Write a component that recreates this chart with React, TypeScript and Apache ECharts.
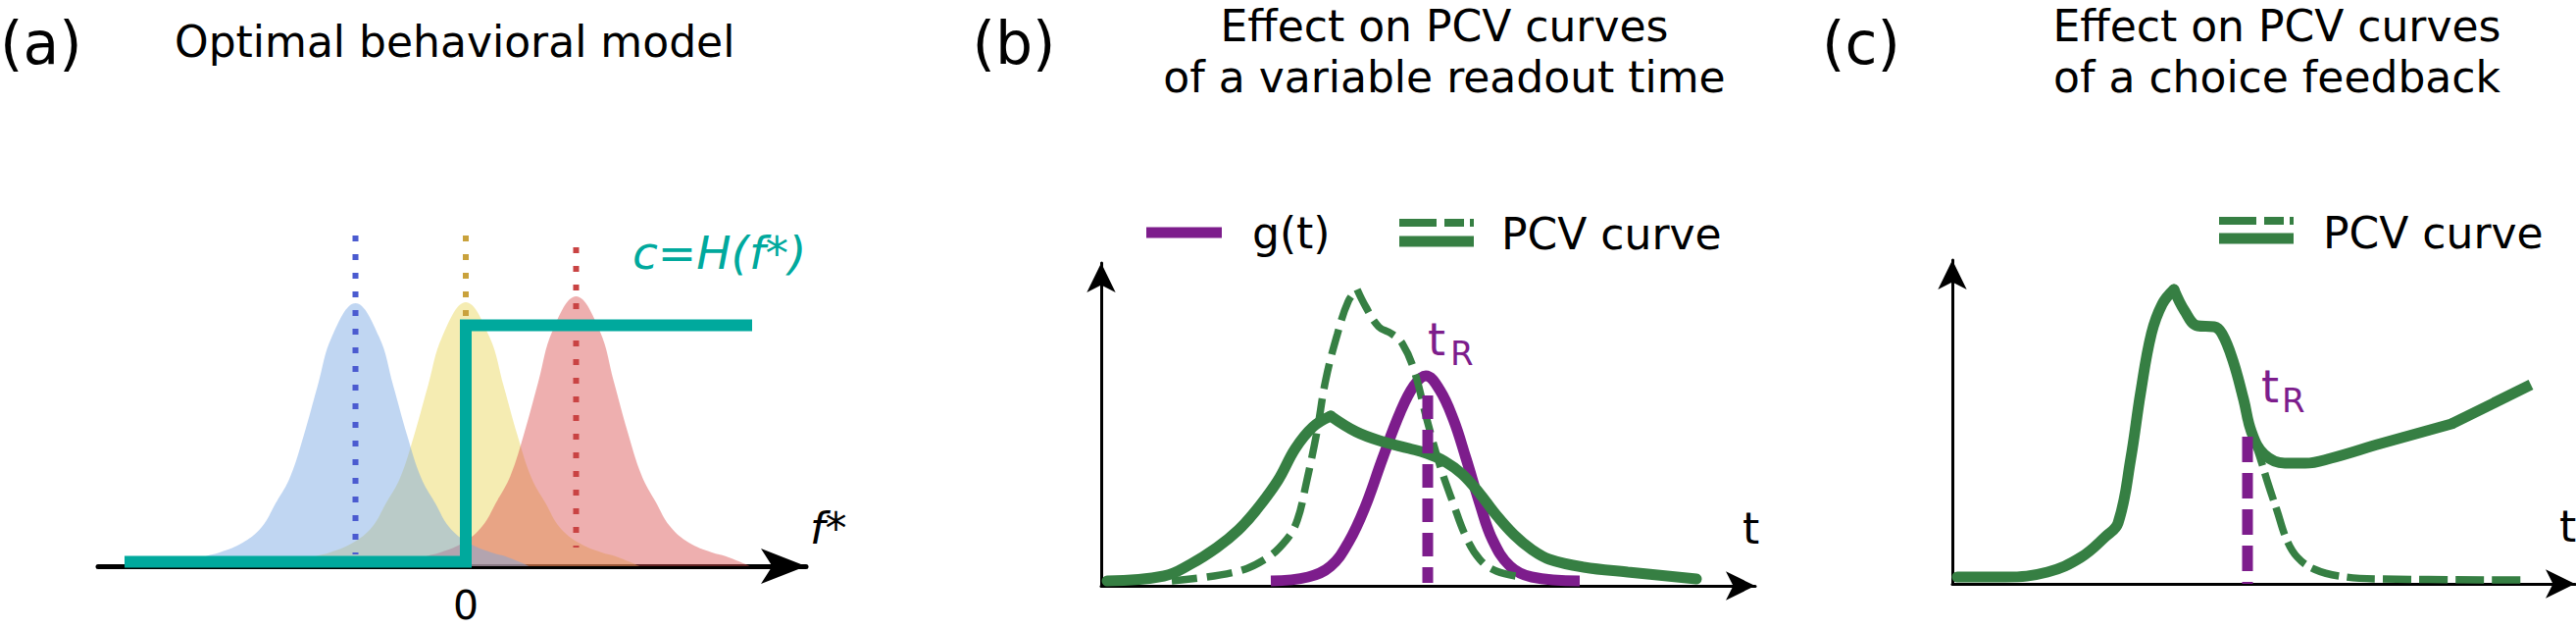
import React, { useEffect, useRef } from 'react';
import * as echarts from 'echarts';

const FONT = 'DejaVu Sans';
const GREEN = '#367f43';
const PURPLE = '#7d1d8c';
const TEAL = '#00a99d';

// ---------- Panel (a): stimulus distributions (x in f* units, y = density height) ----------
const yellowX = [-3.55, -3.06, -2.77, -2.3, -1.91, -1.63, -1.34, -1.05, -0.77, -0.48, 0, 0.48, 0.77, 1.05, 1.34, 1.63, 1.91, 2.3, 2.77, 3.06, 3.55];
const yellowY = [0, 0.1, 0.14, 0.24, 0.4, 0.64, 0.9, 1.34, 1.84, 2.34, 2.69, 2.34, 1.84, 1.34, 0.9, 0.64, 0.4, 0.24, 0.14, 0.1, 0];
const redX = [-1.3, -0.81, -0.52, -0.05, 0.34, 0.62, 0.91, 1.2, 1.48, 1.77, 2.25, 2.73, 3.02, 3.3, 3.59, 3.88, 4.16, 4.55, 5.02, 5.31, 5.8];
const redY = [0, 0.1, 0.14, 0.24, 0.41, 0.65, 0.92, 1.37, 1.88, 2.4, 2.75, 2.4, 1.88, 1.37, 0.92, 0.65, 0.41, 0.24, 0.14, 0.1, 0];
const blueX = [-5.8, -5.31, -5.02, -4.55, -4.16, -3.88, -3.59, -3.3, -3.02, -2.73, -2.25, -1.77, -1.48, -1.2, -0.91, -0.62, -0.34, 0.05, 0.52, 0.81, 1.3];
const blueY = [0, 0.1, 0.14, 0.24, 0.4, 0.64, 0.9, 1.34, 1.84, 2.34, 2.68, 2.34, 1.84, 1.34, 0.9, 0.64, 0.4, 0.24, 0.14, 0.1, 0];
// dotted means: [x, yTop, yBottom]
const blueMean = [-2.25, 3.37, 0.12];
const yellowMean = [0, 3.37, 0.12];
const redMean = [2.25, 3.25, 0.19];
// decision rule c = H(f*)
const stepX = [-6.96, 0, 0, 5.84];
const stepY = [0.045, 0.045, 2.455, 2.455];
const aTicks = [0];

// ---------- Panel (b) ----------
const bSolidRiseX = [0.6, 6.4, 9.1, 11.8, 14.0, 15.8, 18.0, 19.8, 21.6, 23.4];
const bSolidRiseY = [0.5, 1.0, 2.2, 3.9, 5.7, 7.7, 10.7, 14.0, 16.2, 17.3];
const bSolidFallX = [23.4, 26.0, 28.7, 31.4, 33.2, 35.0, 36.8, 38.6, 40.3, 42.1, 43.9, 45.7, 49.2, 53.7, 60.7];
const bSolidFallY = [17.3, 15.7, 14.7, 14.0, 13.5, 12.7, 11.4, 9.4, 7.2, 5.2, 3.7, 2.7, 1.9, 1.4, 0.7];
const bDashRiseX = [7.2, 13.6, 16.7, 18.9, 20.0, 20.9, 22.0, 22.9, 24.1, 25.2, 26.1];
const bDashRiseY = [0.5, 1.4, 2.7, 4.7, 6.7, 10.4, 15.7, 21.0, 25.7, 29.0, 30.2];
const bDashFallX = [26.1, 27.0, 28.3, 29.6, 30.7, 31.9, 33.2, 34.5, 35.9, 37.2, 38.6, 40.3, 43.0];
const bDashFallY = [30.2, 28.4, 26.4, 25.7, 24.7, 22.0, 17.0, 12.4, 8.4, 5.0, 2.7, 1.5, 0.9];
const gX = [17.3, 21.1, 23.4, 25.2, 26.9, 28.7, 30.5, 31.9, 33.1, 34.5, 35.9, 37.2, 38.6, 39.9, 41.7, 43.9, 48.8];
const gY = [0.5, 0.9, 2.0, 4.4, 8.0, 13.0, 17.7, 20.4, 21.4, 20.0, 17.0, 13.0, 8.4, 4.7, 2.0, 0.9, 0.5];
const bReadout = [33.3, 19.4, 0.3];

// ---------- Panel (c) ----------
const cRiseX = [0.5, 5.4, 9.7, 13.1, 15.6, 16.9, 18.2, 19.2, 20.3, 21.4, 22.6];
const cRiseY = [0.7, 0.7, 1.2, 2.7, 4.8, 6.2, 12.8, 19.5, 25.5, 28.5, 30.0];
const cFallX = [22.6, 23.7, 25.0, 26.7, 27.5, 28.6, 29.7, 30.5, 31.8, 33.9, 36.0, 38.6, 43.7, 50.9];
const cFallY = [30.0, 27.8, 26.3, 26.2, 25.5, 22.8, 18.8, 15.5, 13.2, 12.3, 12.3, 12.8, 14.3, 16.3];
const cTailX = [50.9, 59.0];
const cTailY = [16.3, 20.3];
const cDashX = [30.7, 31.4, 32.2, 33.1, 34.1, 35.2, 36.9, 39.4, 43.7, 58.6];
const cDashY = [14.8, 12.8, 10.2, 7.5, 4.5, 2.7, 1.5, 0.8, 0.5, 0.4];
const cReadout = [30.1, 15.0, 0];

const zip = (xs: number[], ys: number[]) => xs.map((x, i) => [x, ys[i]]);

function lineSeries(name: string, grid: number, data: number[][], extra: any) {
  return {
    name,
    type: 'line',
    xAxisIndex: grid,
    yAxisIndex: grid,
    data,
    symbol: 'none',
    clip: false,
    silent: true,
    ...extra,
  };
}

function buildOption() {
  const axisCommon = {
    type: 'value',
    splitLine: { show: false },
    axisTick: { show: false },
  };
  const txt = (text: string, x: number, y: number, size: number, align: string, extra: any = {}) => ({
    type: 'text',
    x,
    y,
    style: {
      text,
      fontSize: size,
      fontFamily: FONT,
      fill: '#000',
      align,
      verticalAlign: 'middle',
      ...extra,
    },
  });
  const tName = {
    name: 't',
    nameLocation: 'end',
    nameTextStyle: {
      fontSize: 44,
      fontFamily: FONT,
      color: '#000',
      align: 'left',
      verticalAlign: 'bottom',
      lineHeight: 44,
      padding: [0, 0, 37, 0],
    },
  };
  const thinAxisLine = {
    show: true,
    onZero: false,
    lineStyle: { color: '#000', width: 3 },
    symbol: ['none', 'arrow'],
    symbolSize: [22, 30],
  };
  const gridCommon = { containLabel: false, outerBoundsMode: 'none' };

  return {
    animation: false,
    backgroundColor: '#fff',
    grid: [
      { ...gridCommon, left: 100, top: 227, width: 722, height: 350 },
      { ...gridCommon, left: 1123, top: 268, width: 667, height: 329 },
      { ...gridCommon, left: 1991, top: 265, width: 635, height: 330 },
    ],
    xAxis: [
      {
        ...axisCommon,
        gridIndex: 0,
        min: -7.5,
        max: 6.94,
        axisLine: {
          show: true,
          onZero: false,
          lineStyle: { color: '#000', width: 5 },
          symbol: ['none', 'arrow'],
          symbolSize: [27, 46],
        },
        axisLabel: {
          customValues: aTicks,
          fontSize: 41,
          fontFamily: FONT,
          color: '#000',
          margin: 25,
          lineHeight: 30,
        },
      },
      {
        ...axisCommon,
        gridIndex: 1,
        min: 0,
        max: 66.7,
        axisLine: thinAxisLine,
        axisLabel: { show: false },
        nameGap: -13,
        ...tName,
      },
      {
        ...axisCommon,
        gridIndex: 2,
        min: 0,
        max: 63.5,
        axisLine: thinAxisLine,
        axisLabel: { show: false },
        nameGap: -16,
        ...tName,
      },
    ],
    yAxis: [
      { ...axisCommon, gridIndex: 0, min: 0, max: 3.5, show: false },
      { ...axisCommon, gridIndex: 1, min: 0, max: 32.9, axisLine: thinAxisLine, axisLabel: { show: false } },
      { ...axisCommon, gridIndex: 2, min: 0, max: 33.0, axisLine: thinAxisLine, axisLabel: { show: false } },
    ],
    series: [
      // Panel (a)
      lineSeries('yellow', 0, zip(yellowX, yellowY), {
        smooth: 0.4,
        lineStyle: { opacity: 0, width: 0 },
        areaStyle: { color: 'rgba(233,213,84,0.45)', opacity: 1 },
      }),
      lineSeries('red', 0, zip(redX, redY), {
        smooth: 0.4,
        lineStyle: { opacity: 0, width: 0 },
        areaStyle: { color: 'rgba(217,77,77,0.45)', opacity: 1 },
      }),
      lineSeries('blue', 0, zip(blueX, blueY), {
        smooth: 0.4,
        lineStyle: { opacity: 0, width: 0 },
        areaStyle: { color: 'rgba(115,164,226,0.45)', opacity: 1 },
      }),
      lineSeries('blueMean', 0, [[blueMean[0], blueMean[1]], [blueMean[0], blueMean[2]]], {
        lineStyle: { color: '#4b5bd0', width: 6, type: [6, 13] },
      }),
      lineSeries('yellowMean', 0, [[yellowMean[0], yellowMean[1]], [yellowMean[0], yellowMean[2]]], {
        lineStyle: { color: '#c9a23c', width: 6, type: [6, 13] },
      }),
      lineSeries('redMean', 0, [[redMean[0], redMean[1]], [redMean[0], redMean[2]]], {
        lineStyle: { color: '#c94343', width: 6, type: [6, 13] },
      }),
      lineSeries('c=H(f*)', 0, zip(stepX, stepY), {
        lineStyle: { color: TEAL, width: 12, join: 'miter', cap: 'butt' },
      }),
      // Panel (b)
      lineSeries('g(t)', 1, zip(gX, gY), {
        smooth: 0.4,
        lineStyle: { color: PURPLE, width: 11, cap: 'butt' },
      }),
      lineSeries('PCV curve', 1, zip(bDashRiseX, bDashRiseY), {
        smooth: 0.4,
        lineStyle: { color: GREEN, width: 7.5, type: [26, 10] },
      }),
      lineSeries('PCV curve', 1, zip(bDashFallX, bDashFallY), {
        smooth: 0.4,
        lineStyle: { color: GREEN, width: 7.5, type: [26, 10] },
      }),
      lineSeries('PCV curve', 1, zip(bSolidRiseX, bSolidRiseY), {
        smooth: 0.4,
        lineStyle: { color: GREEN, width: 11, cap: 'round' },
      }),
      lineSeries('PCV curve', 1, zip(bSolidFallX, bSolidFallY), {
        smooth: 0.4,
        lineStyle: { color: GREEN, width: 11, cap: 'round' },
      }),
      lineSeries('tR', 1, [[bReadout[0], bReadout[1]], [bReadout[0], bReadout[2]]], {
        lineStyle: { color: PURPLE, width: 11, type: [24, 11] },
      }),
      // Panel (c)
      lineSeries('PCV curve', 2, zip(cDashX, cDashY), {
        smooth: 0.4,
        lineStyle: { color: GREEN, width: 7.5, type: [29, 8] },
      }),
      lineSeries('PCV curve', 2, zip(cRiseX, cRiseY), {
        smooth: 0.4,
        lineStyle: { color: GREEN, width: 11, cap: 'round' },
      }),
      lineSeries('PCV curve', 2, zip(cFallX, cFallY), {
        smooth: 0.4,
        lineStyle: { color: GREEN, width: 11, cap: 'round' },
      }),
      lineSeries('PCV curve', 2, zip(cTailX, cTailY), {
        lineStyle: { color: GREEN, width: 11, cap: 'butt' },
      }),
      lineSeries('tR', 2, [[cReadout[0], cReadout[1]], [cReadout[0], cReadout[2]]], {
        lineStyle: { color: PURPLE, width: 11, type: [26, 11] },
      }),
    ],
    graphic: [
      // panel labels and titles
      txt('(a)', 0, 44, 60, 'left'),
      txt('Optimal behavioral model', 178, 42, 44, 'left'),
      txt('(b)', 1034, 44, 60, 'center'),
      txt('Effect on PCV curves', 1473, 26, 44, 'center'),
      txt('of a variable readout time', 1473, 78, 44, 'center'),
      txt('(c)', 1898, 44, 60, 'center'),
      txt('Effect on PCV curves', 2322, 26, 44, 'center'),
      txt('of a choice feedback', 2322, 78, 44, 'center'),
      // panel (a) annotations
      txt('c=H(f*)', 645, 257, 47, 'left', { fill: TEAL, fontStyle: 'italic' }),
      txt('f*', 826, 538, 44, 'left', { fontStyle: 'italic' }),
      // panel (b) legend
      { type: 'line', shape: { x1: 1169, y1: 237, x2: 1246, y2: 237 }, style: { stroke: PURPLE, lineWidth: 11 } },
      txt('g(t)', 1277, 237, 44, 'left'),
      { type: 'line', shape: { x1: 1427, y1: 227, x2: 1503, y2: 227 }, style: { stroke: GREEN, lineWidth: 8, lineDash: [38, 8, 20, 6] } },
      { type: 'line', shape: { x1: 1427, y1: 246, x2: 1503, y2: 246 }, style: { stroke: GREEN, lineWidth: 11 } },
      txt('PCV curve', 1531, 238, 44, 'left'),
      // panel (b) t_R
      txt('t', 1456, 346, 46, 'left', { fill: PURPLE }),
      txt('R', 1479, 360, 34, 'left', { fill: PURPLE }),
      // panel (c) legend
      { type: 'line', shape: { x1: 2263, y1: 225, x2: 2339, y2: 225 }, style: { stroke: GREEN, lineWidth: 8, lineDash: [38, 8, 20, 6] } },
      { type: 'line', shape: { x1: 2263, y1: 243, x2: 2339, y2: 243 }, style: { stroke: GREEN, lineWidth: 11 } },
      txt('PCV curve', 2369, 237, 44, 'left'),
      // panel (c) t_R
      txt('t', 2306, 394, 46, 'left', { fill: PURPLE }),
      txt('R', 2327, 408, 34, 'left', { fill: PURPLE }),
    ],
  };
}

export default function App() {
  const ref = useRef<HTMLDivElement>(null);
  useEffect(() => {
    document.body.style.margin = '0';
    if (!ref.current) return;
    const chart = echarts.init(ref.current, undefined, { renderer: 'svg' });
    chart.setOption(buildOption() as any);
    return () => chart.dispose();
  }, []);
  return <div ref={ref} style={{ width: 2627, height: 641 }} />;
}
